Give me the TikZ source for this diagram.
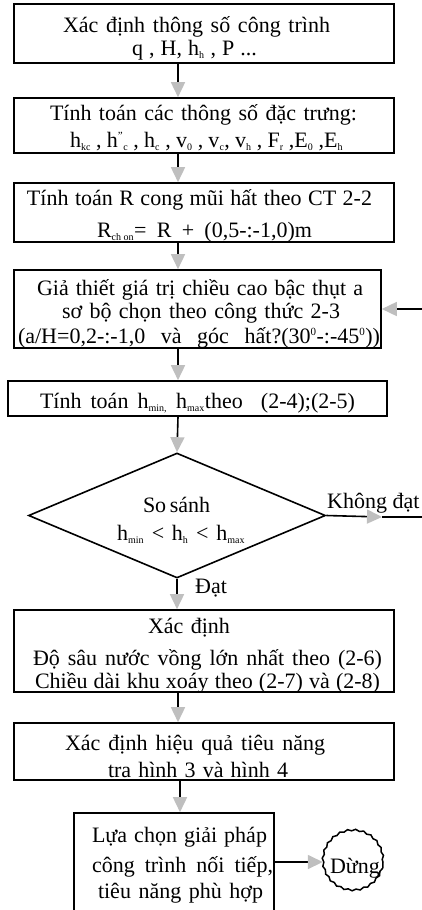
\documentclass[tikz,border=0pt]{standalone}
\usepackage{fontspec}
\setmainfont{Liberation Serif}
\usetikzlibrary{arrows.meta,shapes.geometric,decorations.pathmorphing}
% small subscripts / superscripts and lines spread to a given width
\newcommand{\sbs}[1]{\textsubscript{\fontsize{10}{10}\selectfont #1}}
\newcommand{\sps}[1]{\textsuperscript{\fontsize{11}{11}\selectfont #1}}
\newcommand{\fitw}[2]{\makebox[#1pt][s]{#2}}
\tikzset{
  box/.style={draw=black, line width=1.6pt, rectangle, inner sep=0pt},
  txt/.style={anchor=base, inner sep=0pt, font=\fontsize{22}{26}\selectfont},
  conn/.style={draw=black, line width=1.6pt},
  flow/.style={conn, -{Triangle[length=15pt,width=14pt,color=gray!50]}}
}
\begin{document}
\begin{tikzpicture}[x=1pt,y=-1pt]
\useasboundingbox (0,0) rectangle (422,910);
\clip (0,0) rectangle (422,910);

% process boxes
\node[box, minimum width=380pt, minimum height=59pt] (b1) at (204,33.5) {};
\node[box, minimum width=380pt, minimum height=55pt] (b2) at (204,125.5) {};
\node[box, minimum width=380pt, minimum height=59pt] (b3) at (204,212.5) {};
\node[box, minimum width=367pt, minimum height=78pt] (b4) at (197.5,309) {};
\node[box, minimum width=379pt, minimum height=35pt] (b5) at (197.5,398.5) {};
\node[draw=black, line width=1.6pt, diamond, inner sep=0pt, minimum width=297pt,
  minimum height=125pt] (d) at (177,515.5) {};
\node[box, minimum width=380pt, minimum height=82pt] (b6) at (204,651) {};
\node[box, minimum width=380pt, minimum height=57pt] (b7) at (204,751.5) {};
\node[box, minimum width=200pt, minimum height=110pt] (b8) at (174,868) {};
\node[circle, inner sep=0pt, minimum size=60pt] (stop) at (353,862) {};
\draw[line width=1.5pt, decorate, decoration={snake, amplitude=0.8pt, segment length=8pt}]
  (stop.center) circle[radius=30pt];

% texts, one node per printed line
\node[txt] (t1a) at (196.5,32) {\fitw{267}{Xác định thông số công trình}};
\node[txt] (t1b) at (194.5,55) {\fitw{125}{q , H, h\sbs{h} , P ...}};
\node[txt] (t2a) at (203.5,120) {\fitw{307}{Tính toán các thông số đặc trưng:}};
\node[txt] (t2b) at (206.5,147) {\fitw{273}{h\sbs{kc} , h\sps{"}\sbs{c} , h\sbs{c} , v\sbs{0} , v\sbs{c}, v\sbs{h} , F\sbs{r} ,E\sbs{0} ,E\sbs{h}}};
\node[txt] (t3a) at (199.5,205) {\fitw{345}{Tính toán R cong mũi hất theo CT 2-2}};
\node[txt] (t3b) at (204.5,237) {\fitw{215}{R\sbs{ch on}= R + (0,5-:-1,0)m}};
\node[txt] (t4a) at (200,295) {\fitw{326}{Giả thiết giá trị chiều cao bậc thụt a}};
\node[txt] (t4b) at (201,318) {\fitw{278}{sơ bộ chọn theo công thức 2-3}};
\node[txt] (t4c) at (199,343) {\fitw{362}{(a/H=0,2-:-1,0 và góc hất?(30\sps{0}-:-45\sps{0}))}};
\node[txt] (t5) at (197.5,408) {\fitw{315}{Tính toán h\sbs{min,} h\sbs{max}theo \ (2-4);(2-5)}};
\node[txt] (tda) at (176.5,512) {\fitw{67}{So sánh}};
\node[txt] (tdb) at (181,540) {\fitw{128}{h\sbs{min} < h\sbs{h} < h\sbs{max}}};
\node[txt, anchor=base west] (ok) at (195,593) {Đạt};
\node[txt, anchor=base west] (ko) at (327,508) {Không đạt};
\node[txt] (t6a) at (189,633) {\fitw{82}{Xác định}};
\node[txt] (t6b) at (207.5,665) {\fitw{349}{Độ sâu nước vồng lớn nhất theo (2-6)}};
\node[txt] (t6c) at (207.5,688) {\fitw{345}{Chiều dài khu xoáy theo (2-7) và (2-8)}};
\node[txt] (t7a) at (195,750) {\fitw{260}{Xác định hiệu quả tiêu năng}};
\node[txt] (t7b) at (198,777) {\fitw{180}{tra hình 3 và hình 4}};
\node[txt] (t8a) at (179.5,842) {\fitw{175}{Lựa chọn giải pháp}};
\node[txt] (t8b) at (182.5,872) {\fitw{181}{công trình nối tiếp,}};
\node[txt] (t8c) at (180.5,898) {\fitw{165}{tiêu năng phù hợp}};
\node[txt] (tst) at (355,873) {Dừng};

% connectors
\draw[flow] (b1.south -| 178,0) -- (b2.north -| 178,0);
\draw[flow] (b2.south -| 178,0) -- (b3.north -| 178,0);
\draw[flow] (b3.south -| 178,0) -- (b4.north -| 178,0);
\draw[flow] (b4.south -| 178,0) -- (b5.north -| 178,0);
\draw[flow] (b5.south -| 178,0) -- (d.north);
\draw[flow] (d.south) -- (b6.north -| d.south);
\draw[flow] (b6.south -| 178,0) -- (b7.north -| 178,0);
\draw[flow] (b7.south -| 180,0) -- (b8.north -| 180,0);
\draw[flow] (b8.east |- stop) -- (stop.west);

% loop back from the decision
\coordinate (kd) at (382,517);
\coordinate (rt) at (432,517);
\draw[flow] (d.east) -- (kd);
\draw[conn] (kd) -- (rt);
\draw[flow] (rt) |- (b4.east);
\end{tikzpicture}
\end{document}
